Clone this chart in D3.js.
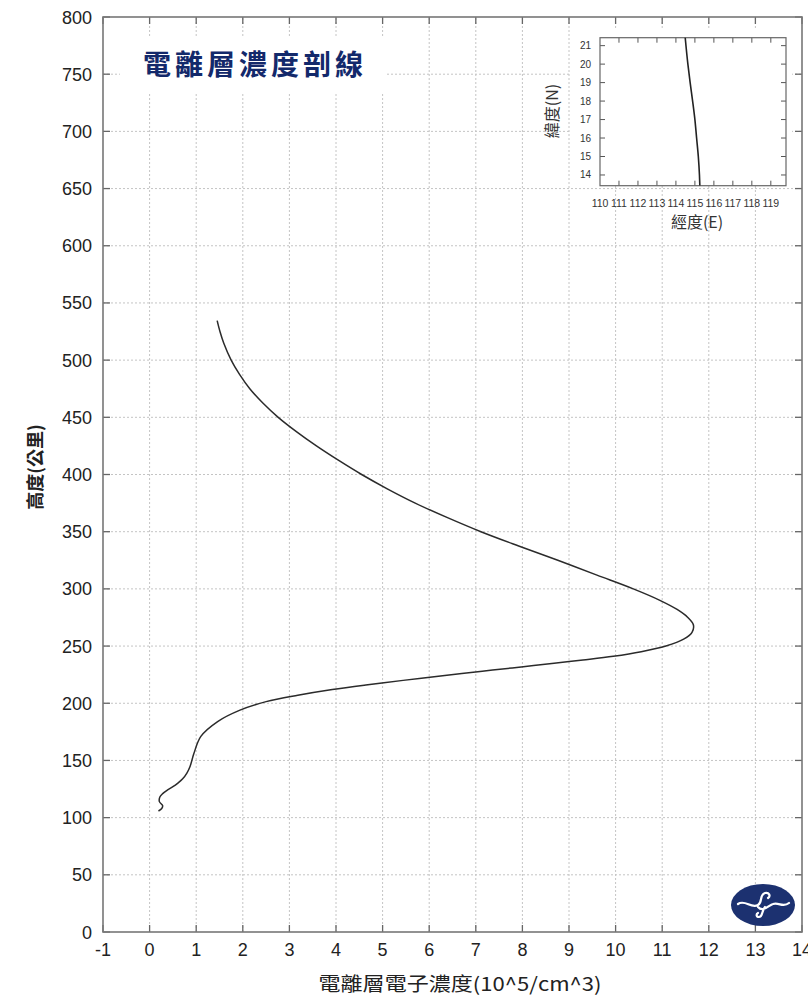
<!DOCTYPE html>
<html>
<head>
<meta charset="utf-8">
<script src="https://cdn.jsdelivr.net/npm/d3@7"></script>
<style>
  body { margin: 0; background: #fff; }
  svg { display: block; }
</style>
</head>
<body>
<div id="chart"></div>
<script>
// electron density (10^5/cm^3) vs altitude (km)
const altitude = [534.5, 525, 515, 500, 487.5, 475, 462.5, 450, 437.5, 425, 412.5, 400, 387.5, 375, 362.5, 350, 337.5, 325, 312, 300, 290, 282, 275, 268.4, 262, 256, 250, 245, 241, 237.8, 235, 232, 229, 226, 223, 220, 216, 212, 207, 201.4, 194, 184, 171, 156, 145, 139, 134, 130, 127, 124, 121, 118, 114, 110.5, 108, 105.8];
const density  = [1.45, 1.51, 1.59, 1.75, 1.93, 2.15, 2.43, 2.76, 3.15, 3.58, 4.05, 4.55, 5.1, 5.7, 6.38, 7.11, 7.92, 8.76, 9.6, 10.38, 10.95, 11.32, 11.55, 11.67, 11.64, 11.46, 11.08, 10.55, 9.95, 9.3, 8.68, 8.02, 7.36, 6.7, 6.06, 5.44, 4.64, 3.92, 3.18, 2.5, 1.94, 1.46, 1.1, 0.95, 0.87, 0.8, 0.71, 0.6, 0.5, 0.38, 0.28, 0.22, 0.21, 0.28, 0.26, 0.19];

const xTicks = d3.range(-1, 15);
const yTicks = d3.range(0, 801, 50);

// inset: sub-satellite track
const trackLat = [21.43, 20, 19, 18, 17, 16, 15, 14, 13.43];
const trackLon = [114.49, 114.63, 114.75, 114.88, 115.0, 115.09, 115.18, 115.24, 115.26];
const insetXTicks = d3.range(110, 120);
const insetYTicks = d3.range(14, 22);

const width = 808, height = 995;

const svg = d3.select("#chart")
  .append("svg")
  .attr("width", width)
  .attr("height", height);

const x = d3.scaleLinear().domain([-1, 14]).range([103, 802]);
const y = d3.scaleLinear().domain([0, 800]).range([932, 17]);

const frameColor = "#777";
const font = "'Liberation Sans', Arial, sans-serif";
const cjk = "'Noto Sans CJK TC', 'Noto Sans CJK SC', sans-serif";

// grid
svg.append("g")
  .selectAll("line")
  .data(xTicks.filter(d => d > -1 && d < 14))
  .join("line")
  .attr("x1", d => x(d)).attr("x2", d => x(d))
  .attr("y1", y(0)).attr("y2", y(800))
  .attr("stroke", "#c4c4c4")
  .attr("stroke-dasharray", "2,2");

svg.append("g")
  .selectAll("line")
  .data(yTicks.filter(d => d > 0 && d < 800))
  .join("line")
  .attr("x1", x(-1)).attr("x2", x(14))
  .attr("y1", d => y(d)).attr("y2", d => y(d))
  .attr("stroke", "#c4c4c4")
  .attr("stroke-dasharray", "2,2");

// ticks, mirrored on all sides, pointing inward
const tickLen = 7;
const ticks = svg.append("g").attr("stroke", "#666").attr("stroke-width", 1.3);
xTicks.forEach(d => {
  ticks.append("line").attr("x1", x(d)).attr("x2", x(d)).attr("y1", y(0)).attr("y2", y(0) - tickLen);
  ticks.append("line").attr("x1", x(d)).attr("x2", x(d)).attr("y1", y(800)).attr("y2", y(800) + tickLen);
});
yTicks.forEach(d => {
  ticks.append("line").attr("x1", x(-1)).attr("x2", x(-1) + tickLen).attr("y1", y(d)).attr("y2", y(d));
  ticks.append("line").attr("x1", x(14)).attr("x2", x(14) - tickLen).attr("y1", y(d)).attr("y2", y(d));
});

// tick labels
svg.append("g")
  .selectAll("text")
  .data(xTicks)
  .join("text")
  .attr("x", d => x(d))
  .attr("y", 956)
  .attr("text-anchor", "middle")
  .attr("font-family", font)
  .attr("font-size", 18)
  .attr("fill", "#222")
  .text(d => d);

svg.append("g")
  .selectAll("text")
  .data(yTicks)
  .join("text")
  .attr("x", 92)
  .attr("y", d => y(d) + 6.5)
  .attr("text-anchor", "end")
  .attr("font-family", font)
  .attr("font-size", 18)
  .attr("fill", "#222")
  .text(d => d);

// profile
const pts = altitude.map((a, i) => [density[i], a]);
svg.append("path")
  .datum(pts)
  .attr("fill", "none")
  .attr("stroke", "#2b2b2b")
  .attr("stroke-width", 1.5)
  .attr("d", d3.line().x(d => x(d[0])).y(d => y(d[1])).curve(d3.curveCatmullRom.alpha(0.5)));

// frame
svg.append("rect")
  .attr("x", x(-1)).attr("y", y(800))
  .attr("width", x(14) - x(-1)).attr("height", y(0) - y(800))
  .attr("fill", "none")
  .attr("stroke", frameColor)
  .attr("stroke-width", 1.6);

// title box
svg.append("rect")
  .attr("x", 120).attr("y", 36).attr("width", 265).attr("height", 58)
  .attr("fill", "#fff");
svg.append("text")
  .attr("x", 143).attr("y", 75)
  .attr("font-family", cjk)
  .attr("font-weight", 700)
  .attr("font-size", 28)
  .attr("letter-spacing", 4)
  .attr("fill", "#13296b")
  .text("電離層濃度剖線");

// axis titles
svg.append("text")
  .attr("x", 460).attr("y", 991)
  .attr("text-anchor", "middle")
  .attr("font-family", cjk)
  .attr("font-size", 19)
  .attr("textLength", 283)
  .attr("lengthAdjust", "spacingAndGlyphs")
  .attr("fill", "#222")
  .text("電離層電子濃度(10^5/cm^3)");

svg.append("text")
  .attr("transform", "translate(42,467) rotate(-90)")
  .attr("text-anchor", "middle")
  .attr("font-family", cjk)
  .attr("font-weight", 700)
  .attr("font-size", 18)
  .attr("fill", "#222")
  .text("高度(公里)");

// inset
const ix = d3.scaleLinear().domain([110, 119.8]).range([600, 786]);
const iy = d3.scaleLinear().domain([13.42, 21.43]).range([185.7, 37.7]);

svg.append("rect")
  .attr("x", 570).attr("y", 30).attr("width", 222).attr("height", 156)
  .attr("fill", "#fff");

const inset = svg.append("g");
const iTick = 5;
insetXTicks.filter(d => d > 110).forEach(d => {
  inset.append("line").attr("x1", ix(d)).attr("x2", ix(d)).attr("y1", iy.range()[0]).attr("y2", iy.range()[0] - iTick).attr("stroke", "#555");
  inset.append("line").attr("x1", ix(d)).attr("x2", ix(d)).attr("y1", iy.range()[1]).attr("y2", iy.range()[1] + iTick).attr("stroke", "#555");
});
insetYTicks.forEach(d => {
  inset.append("line").attr("x1", 600).attr("x2", 600 + iTick).attr("y1", iy(d)).attr("y2", iy(d)).attr("stroke", "#555");
  inset.append("line").attr("x1", 786).attr("x2", 786 - iTick).attr("y1", iy(d)).attr("y2", iy(d)).attr("stroke", "#555");
});

inset.append("rect")
  .attr("x", 600).attr("y", iy.range()[1])
  .attr("width", 186).attr("height", iy.range()[0] - iy.range()[1])
  .attr("fill", "none")
  .attr("stroke", "#666")
  .attr("stroke-width", 1.2);

inset.append("path")
  .datum(trackLat.map((la, i) => [trackLon[i], la]))
  .attr("fill", "none")
  .attr("stroke", "#222")
  .attr("stroke-width", 1.6)
  .attr("d", d3.line().x(d => ix(d[0])).y(d => iy(d[1])).curve(d3.curveMonotoneY));

inset.append("g")
  .selectAll("text")
  .data(insetYTicks)
  .join("text")
  .attr("x", 591)
  .attr("y", d => iy(d) + 3.5)
  .attr("text-anchor", "end")
  .attr("font-family", font)
  .attr("font-size", 10)
  .attr("fill", "#333")
  .text(d => d);

inset.append("g")
  .selectAll("text")
  .data(insetXTicks)
  .join("text")
  .attr("x", d => ix(d))
  .attr("y", 207)
  .attr("text-anchor", "middle")
  .attr("font-family", font)
  .attr("font-size", 10.5)
  .attr("fill", "#333")
  .text(d => d);

inset.append("text")
  .attr("x", 697).attr("y", 228)
  .attr("text-anchor", "middle")
  .attr("font-family", cjk)
  .attr("font-size", 16)
  .attr("fill", "#333")
  .text("經度(E)");

inset.append("text")
  .attr("transform", "translate(558,111) rotate(-90)")
  .attr("text-anchor", "middle")
  .attr("font-family", cjk)
  .attr("font-size", 16)
  .attr("fill", "#333")
  .text("緯度(N)");

// logo
const logo = svg.append("g").attr("transform", "translate(763,905)");
logo.append("ellipse").attr("rx", 32).attr("ry", 21).attr("fill", "#1c3170");
logo.append("path")
  .attr("d", "M-25,-1 C-18,-6 -12,4 -5,0 C0,-3 -4,-10 2,-12 C6,-13 8,-9 5,-7 M-5,2 C0,8 6,0 10,-1 C16,-3 20,3 26,-2 M2,2 C-2,7 0,12 -4,12 C-7,12 -7,9 -5,8")
  .attr("fill", "none")
  .attr("stroke", "#fff")
  .attr("stroke-width", 2.2)
  .attr("stroke-linecap", "round");
</script>
</body>
</html>
